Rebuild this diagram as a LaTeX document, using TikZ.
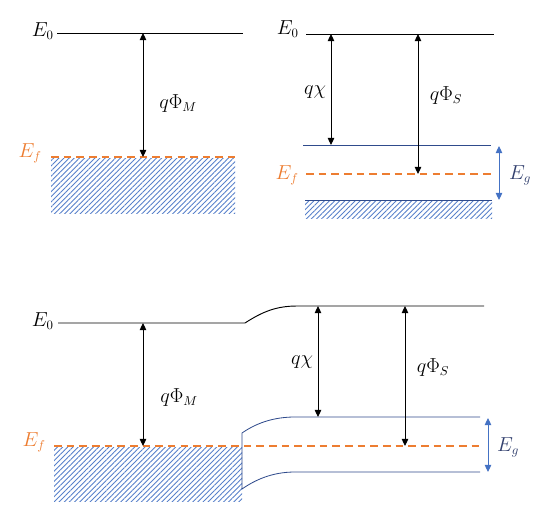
\documentclass[tikz,border=0pt]{standalone}
\usepackage{amsmath,amssymb}
\usepackage{tikz}
\usetikzlibrary{arrows.meta,patterns.meta,positioning}
\usepackage{xcolor}
\definecolor{efOrange}{RGB}{237,125,49}
\definecolor{hatchBlue}{RGB}{68,114,196}
\definecolor{bandBlue}{RGB}{47,75,140}
\definecolor{egNavy}{RGB}{50,64,110}

\tikzset{
  vac/.style={line width=0.8pt},
  bandedge/.style={bandBlue, line width=0.7pt},
  fermi/.style={efOrange, line width=1.6pt, dash pattern=on 6.5pt off 4.3pt},
  hatchfill/.style={pattern={Lines[angle=45,distance=3.1pt,line width=0.75pt]},
                    pattern color=hatchBlue!90},
  dimarrow/.style={{Triangle[length=6pt,width=5.5pt]}-{Triangle[length=6pt,width=5.5pt]},
                   line width=0.8pt},
  lbl/.style={font=\fontsize{16}{19}\selectfont, inner sep=1pt},
}

\begin{document}
\begin{tikzpicture}[x=0.03cm, y=-0.03cm]
    \useasboundingbox (0,0) rectangle (547,520);

    % metal, before contact
    \node[lbl, anchor=east] (mVacLbl) at (55,31) {$E_0$};
    \node[lbl, anchor=east, text=efOrange] (mEfLbl) at (43,153) {$E_f$};
    \coordinate (mVacL) at (57,33);   \coordinate (mVacR) at (243,33);
    \coordinate (mEfL)  at (51,157);  \coordinate (mEfR)  at (235,157);
    \coordinate (mVacA) at (143,33);  \coordinate (mEfA)  at (143,157);
    \fill[hatchfill] (51,158) rectangle (235,213);
    \draw[vac] (mVacL) -- (mVacR);
    \draw[fermi] (mEfL) -- (mEfR);
    \draw[dimarrow] (mVacA) -- (mEfA);
    \node[lbl] (mPhiLbl) at (178,104) {$q\Phi_M$};

    % semiconductor, before contact
    \node[lbl, anchor=east] (sVacLbl) at (300,29) {$E_0$};
    \node[lbl, anchor=east, text=efOrange] (sEfLbl) at (300,175) {$E_f$};
    \coordinate (sVacL) at (306,34);  \coordinate (sVacR) at (494,34);
    \coordinate (sCbL)  at (303,145); \coordinate (sCbR)  at (491,145);
    \coordinate (sEfL)  at (306,174); \coordinate (sEfR)  at (492,174);
    \coordinate (sVbL)  at (305,200); \coordinate (sVbR)  at (492,200);
    \fill[hatchfill] (305,201) rectangle (492,218);
    \draw[vac] (sVacL) -- (sVacR);
    \draw[bandedge] (sCbL) -- (sCbR);
    \draw[bandedge] (sVbL) -- (sVbR);
    \draw[fermi] (sEfL) -- (sEfR);
    \draw[dimarrow] (331,34) coordinate (sChiT) -- (331,145) coordinate (sChiB);
    \draw[dimarrow] (418,34) coordinate (sPhiT) -- (418,174) coordinate (sPhiB);
    \draw[dimarrow, hatchBlue] (499,146) coordinate (sGapT) -- (499,200) coordinate (sGapB);
    \node[lbl] (sChiLbl) at (315,92) {$q\chi$};
    \node[lbl] (sPhiLbl) at (446,96) {$q\Phi_S$};
    \node[lbl, text=egNavy] (sGapLbl) at (520,175) {$E_g$};

    % junction after contact
    \node[lbl, anchor=east] (jVacLbl) at (55,321) {$E_0$};
    \node[lbl, anchor=east, text=efOrange] (jEfLbl) at (47,442) {$E_f$};
    \coordinate (jVacL)  at (58,323);  \coordinate (jVacK) at (245,323);
    \coordinate (jVacF)  at (297,306); \coordinate (jVacR) at (484,306);
    \coordinate (jEfL)   at (54,446);  \coordinate (jEfR)  at (482,446);
    \coordinate (jCbE)   at (242,433); \coordinate (jCbF)  at (295,417);
    \coordinate (jCbR)   at (480,417);
    \coordinate (jVbE)   at (242,489); \coordinate (jVbF)  at (295,472);
    \coordinate (jVbR)   at (480,472);
    \fill[hatchfill] (54,447) rectangle (242,501);
    \draw[vac] (jVacL) -- (jVacK) .. controls (262,312) and (276,306) .. (jVacF) -- (jVacR);
    \draw[bandedge] (jCbR) -- (jCbF) .. controls (272,417) and (255,424) .. (jCbE)
        -- (jVbE) .. controls (255,480) and (272,472) .. (jVbF) -- (jVbR);
    \draw[fermi] (jEfL) -- (jEfR);
    \draw[dimarrow] (143,323) coordinate (jPhiMT) -- (143,446) coordinate (jPhiMB);
    \draw[dimarrow] (318,306) coordinate (jChiT) -- (318,417) coordinate (jChiB);
    \draw[dimarrow] (405,306) coordinate (jPhiST) -- (405,446) coordinate (jPhiSB);
    \draw[dimarrow, hatchBlue] (488,418) coordinate (jGapT) -- (488,472) coordinate (jGapB);
    \node[lbl] (jPhiMLbl) at (179,398) {$q\Phi_M$};
    \node[lbl] (jChiLbl) at (302,362) {$q\chi$};
    \node[lbl] (jPhiSLbl) at (433,368) {$q\Phi_S$};
    \node[lbl, text=egNavy] (jGapLbl) at (508,447) {$E_g$};
\end{tikzpicture}
\end{document}
